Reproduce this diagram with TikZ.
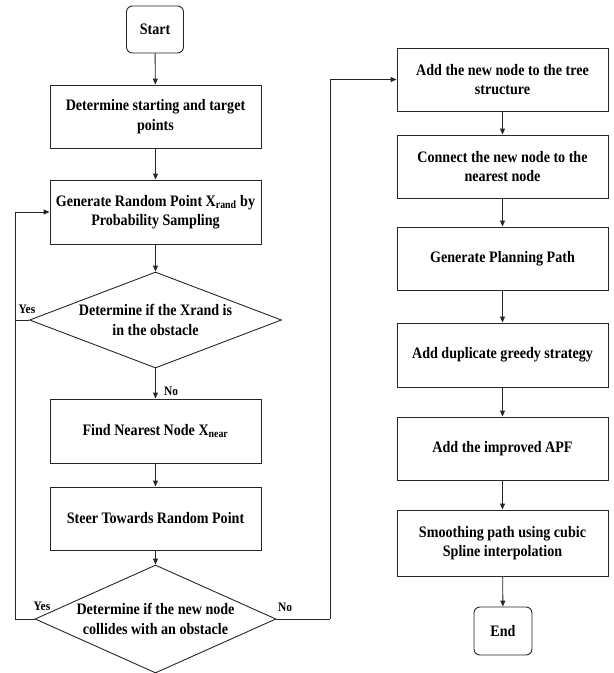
\documentclass[tikz,border=0pt]{standalone}
\usepackage{fontspec}
\setmainfont{Liberation Serif}[FakeStretch=0.88]
\usetikzlibrary{arrows.meta,shapes.geometric}
\begin{document}
\begin{tikzpicture}[x=1pt,y=-1pt,
  every node/.style={font=\bfseries\fontsize{16}{19.5}\selectfont, text=black},
  proc/.style={draw=black!85, line width=0.9pt, rectangle, minimum width=211pt, minimum height=63pt, inner sep=2pt, align=center},
  term/.style={draw=black!85, line width=0.9pt, rectangle, rounded corners=6pt, minimum width=57pt, minimum height=47pt, inner sep=0pt},
  decide/.style={draw=black!85, line width=0.9pt, diamond, inner sep=0pt, align=center},
  lbl/.style={font=\bfseries\fontsize{13}{15}\selectfont, inner sep=0pt},
  arr/.style={draw=black!85, line width=0.9pt, -{Triangle[length=6pt,width=5pt]}},
  ln/.style={draw=black!85, line width=0.9pt}
]
\useasboundingbox (0,0) rectangle (614,673);
% left column
\node[term] (start) at (155,29.5) {Start};
\node[proc] (b1) at (155.5,116.5) {Determine starting and target\\points};
\node[proc, minimum height=64pt] (b2) at (155.5,212) {Generate Random Point X\textsubscript{rand} by\\Probability Sampling};
\node[decide, aspect=2.625, minimum width=252pt, minimum height=96pt] (d1) at (155.5,320) {Determine if the Xrand is\\in the obstacle};
\node[proc, minimum height=64pt] (b3) at (155.5,431) {Find Nearest Node X\textsubscript{near}};
\node[proc] (b4) at (155.5,518.5) {Steer Towards Random Point};
\node[decide, aspect=2.23, minimum width=241pt, minimum height=108pt] (d2) at (155.5,619) {Determine if the new node\\collides with an obstacle};
% right column
\node[proc] (r1) at (502.5,79.5) {Add the new node to the tree\\structure};
\node[proc] (r2) at (502.5,166.5) {Connect the new node to the\\nearest node};
\node[proc] (r3) at (502.5,258.5) {Generate Planning Path};
\node[proc, minimum height=64pt] (r4) at (502.5,355) {Add duplicate greedy strategy};
\node[proc] (r5) at (502.5,448.5) {Add the improved APF};
\node[proc, minimum height=66pt] (r6) at (502.5,543) {Smoothing path using cubic\\Spline interpolation};
\node[term, minimum width=58pt, minimum height=48pt] (end) at (503,631) {End};
% connectors
\draw[arr] (start) -- (b1);
\draw[arr] (b1) -- (b2);
\draw[arr] (b2) -- (d1);
\draw[arr] (d1) -- (b3);
\draw[arr] (b3) -- (b4);
\draw[arr] (b4) -- (d2);
\coordinate (lx) at (15,619);
\coordinate (rx) at (330,619);
\draw[ln] (d2.west) -- (lx);
\draw[arr] (lx) |- (b2.west);
\draw[ln] (d1.west) -- (d1.west -| lx);
\draw[ln] (d2.east) -- (rx);
\draw[arr] (rx) |- (r1.west);
\draw[arr] (r1) -- (r2);
\draw[arr] (r2) -- (r3);
\draw[arr] (r3) -- (r4);
\draw[arr] (r4) -- (r5);
\draw[arr] (r5) -- (r6);
\draw[arr] (r6) -- (end);
% labels
\node[lbl] (y1) at (27,309) {Yes};
\node[lbl] (n1) at (171,391) {No};
\node[lbl] (y2) at (42,606) {Yes};
\node[lbl] (n2) at (285,607) {No};
\end{tikzpicture}
\end{document}
